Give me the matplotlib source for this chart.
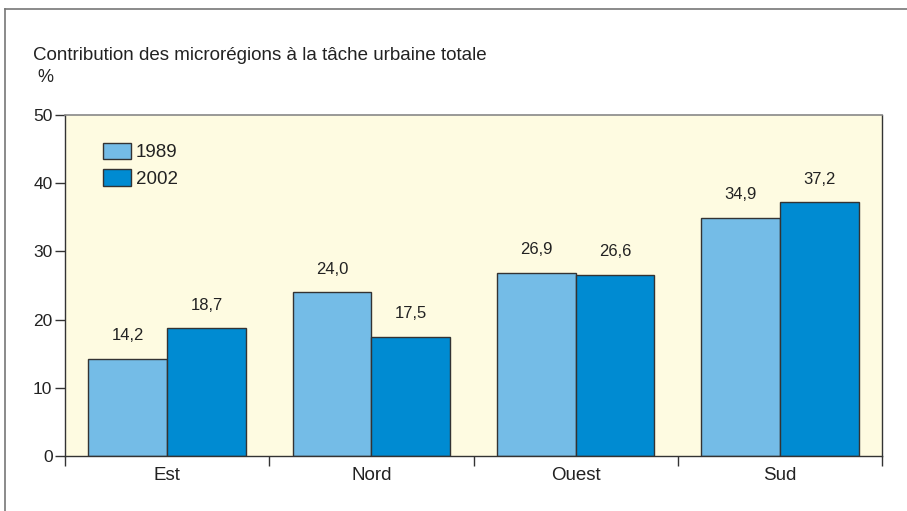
import matplotlib.pyplot as plt
import numpy as np

plt.rcParams['font.family'] = ['Liberation Sans', 'DejaVu Sans']

# data
categories = ['Est', 'Nord', 'Ouest', 'Sud']
values_1989 = [14.2, 24.0, 26.9, 34.9]
values_2002 = [18.7, 17.5, 26.6, 37.2]
labels_1989 = ['14,2', '24,0', '26,9', '34,9']
labels_2002 = ['18,7', '17,5', '26,6', '37,2']

light_blue = '#74bce7'
dark_blue = '#008bd2'
edge = '#333333'
txt = '#222222'

fig = plt.figure(figsize=(9.07, 5.11), dpi=100)
# axes box: x 65..882, y 115..456 in pixels
ax = fig.add_axes([65 / 907, 1 - 456 / 511, (882 - 65) / 907, (456 - 115) / 511])
ax.set_facecolor('#fefbe1')

x = np.arange(len(categories))
w = 0.385
ax.bar(x - w / 2, values_1989, w, color=light_blue, edgecolor=edge, linewidth=1, label='1989')
ax.bar(x + w / 2, values_2002, w, color=dark_blue, edgecolor=edge, linewidth=1, label='2002')

for xi, v, lab in zip(x - w / 2, values_1989, labels_1989):
    ax.text(xi, v + 3.4, lab, ha='center', va='center', fontsize=12, color=txt)
for xi, v, lab in zip(x + w / 2, values_2002, labels_2002):
    ax.text(xi, v + 3.4, lab, ha='center', va='center', fontsize=12, color=txt)

ax.set_xlim(-0.5, len(categories) - 0.5)
ax.set_ylim(0, 50)
ax.set_yticks([0, 10, 20, 30, 40, 50])
ax.set_xticks(np.arange(len(categories) + 1) - 0.5)
ax.set_xticklabels([])
ax.set_xticks(x, minor=True)
ax.set_xticklabels(categories, minor=True)
ax.tick_params(axis='x', which='major', length=7, width=1, color=edge, direction='out')
ax.tick_params(axis='x', which='minor', length=0, pad=8, labelsize=13.5, labelcolor=txt)
ax.tick_params(axis='y', length=7, width=1, color=edge, direction='out', pad=2,
               labelsize=12.5, labelcolor=txt)

for s in ['left', 'bottom', 'right']:
    ax.spines[s].set_color(edge)
    ax.spines[s].set_linewidth(1)
ax.spines['top'].set_color('#888888')
ax.spines['top'].set_linewidth(1.2)

leg = ax.legend(loc='upper left', bbox_to_anchor=(0.0465, 0.918), frameon=False,
                fontsize=13.5, handlelength=1.5, handleheight=0.95, handletextpad=0.25,
                labelspacing=0.42, borderpad=0, borderaxespad=0)
for t in leg.get_texts():
    t.set_color(txt)

fig.text(33 / 907, 1 - 55 / 511, 'Contribution des microrégions à la tâche urbaine totale',
         fontsize=13.5, color=txt, va='center', ha='left')
fig.text(37 / 907, 1 - 77 / 511, '%', fontsize=13, color=txt, va='center', ha='left')

# outer frame (only top and left edges visible)
fig.add_artist(plt.Line2D([5 / 907, 1], [1 - 9 / 511, 1 - 9 / 511], color='#777777', linewidth=1.2))
fig.add_artist(plt.Line2D([5 / 907, 5 / 907], [0, 1 - 9 / 511], color='#777777', linewidth=1.2))

fig.savefig('out.png', dpi=100)
